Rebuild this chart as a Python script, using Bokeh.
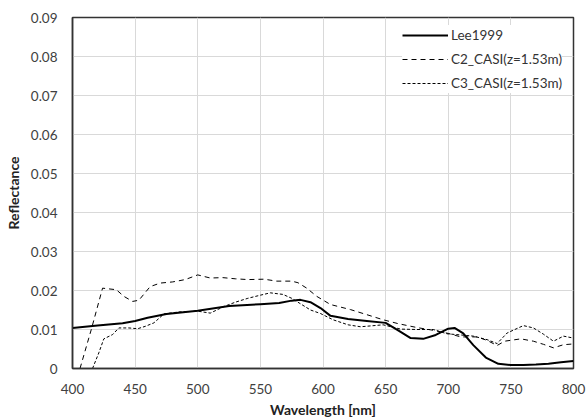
from bokeh.plotting import figure
from bokeh.models import Range1d, FixedTicker, CustomJSTickFormatter, Legend, LegendItem
from bokeh.embed import file_html
from bokeh.resources import INLINE

# ---- data ----
lee_wl = [400, 420, 440, 450, 460, 475, 500, 525, 550, 565, 575, 582, 590, 598, 606, 620, 635, 650,
          660, 670, 680, 690, 700, 705, 712, 720, 730, 740, 750, 760, 770, 780, 790, 800]
lee_r = [0.0104, 0.0110, 0.0116, 0.0122, 0.0130, 0.0140, 0.0148, 0.0160, 0.0165, 0.0168, 0.0174, 0.0176,
         0.0170, 0.0155, 0.0135, 0.0127, 0.0122, 0.0117, 0.0098, 0.0078, 0.0076, 0.0086, 0.0102, 0.0104,
         0.0090, 0.0060, 0.0028, 0.0012, 0.0009, 0.0009, 0.0010, 0.0012, 0.0016, 0.0019]

c2_wl = [406, 415, 424, 435, 441, 448, 453, 462, 470, 480, 490, 500, 510, 520, 530, 540, 553, 563, 575,
         580, 587, 595, 606, 622, 635, 648, 660, 675, 688, 700, 710, 723, 731, 739, 745, 758, 768, 776,
         784, 792, 800]
c2_r = [0.0, 0.0100, 0.0206, 0.0202, 0.0185, 0.0172, 0.0175, 0.0210, 0.0219, 0.0222, 0.0228, 0.0240,
        0.0232, 0.0233, 0.0230, 0.0228, 0.0229, 0.0224, 0.0224, 0.0220, 0.0206, 0.0185, 0.0164, 0.0151,
        0.0138, 0.0125, 0.0115, 0.0105, 0.0098, 0.0090, 0.0081, 0.0081, 0.0072, 0.0059, 0.0070, 0.0076,
        0.0070, 0.0062, 0.0053, 0.0061, 0.0063]

c3_wl = [416, 421, 425, 432, 437, 445, 452, 458, 465, 473, 485, 500, 510, 521, 530, 540, 550, 558, 568,
         575, 582, 590, 598, 608, 620, 630, 648, 662, 675, 688, 699, 710, 720, 731, 739, 747, 760, 768,
         776, 784, 792, 800]
c3_r = [0.0, 0.0040, 0.0076, 0.0087, 0.0104, 0.0104, 0.0102, 0.0108, 0.0117, 0.0140, 0.0145, 0.0147,
        0.0142, 0.0159, 0.0170, 0.0180, 0.0188, 0.0194, 0.0190, 0.0180, 0.0166, 0.0150, 0.0141, 0.0125,
        0.0112, 0.0107, 0.0112, 0.0101, 0.0100, 0.0100, 0.0089, 0.0086, 0.0083, 0.0074, 0.0064, 0.0091,
        0.0110, 0.0104, 0.0088, 0.0070, 0.0083, 0.0078]

x_ticks = [400, 450, 500, 550, 600, 650, 700, 750, 800]
y_ticks = [0, 0.01, 0.02, 0.03, 0.04, 0.05, 0.06, 0.07, 0.08, 0.09]
labels = ["Lee1999", "C2_CASI(z=1.53m)", "C3_CASI(z=1.53m)"]

FONT = "Lato"

p = figure(width=586, height=420, output_backend="svg", toolbar_location=None,
           x_range=Range1d(400, 800), y_range=Range1d(0, 0.09),
           min_border_left=72, min_border_right=13, min_border_top=17, min_border_bottom=51)
p.outline_line_color = "#333333"
p.outline_line_width = 1.5
p.background_fill_color = "white"
p.border_fill_color = "white"

for ax in (p.xaxis[0], p.yaxis[0]):
    ax.axis_line_color = "#333333"
    ax.axis_line_width = 1.5
    ax.major_tick_line_color = None
    ax.minor_tick_line_color = None
    ax.major_tick_out = 0
    ax.major_tick_in = 0
    ax.minor_tick_out = 0
    ax.minor_tick_in = 0
    ax.major_label_text_font = FONT
    ax.major_label_text_font_size = "13.5px"
    ax.major_label_text_color = "#404040"
    ax.axis_label_text_font = FONT
    ax.axis_label_text_font_style = "bold"
    ax.axis_label_text_font_size = "14px"
    ax.axis_label_text_color = "#222222"

p.xaxis.ticker = FixedTicker(ticks=x_ticks)
p.yaxis.ticker = FixedTicker(ticks=y_ticks)
p.yaxis.formatter = CustomJSTickFormatter(code="return tick == 0 ? '0' : tick.toFixed(2);")
p.xaxis.axis_label = "Wavelength [nm]"
p.yaxis.axis_label = "Reflectance"
p.xaxis.major_label_standoff = 15
p.yaxis.major_label_standoff = 15
p.xaxis.axis_label_standoff = 4
p.yaxis.axis_label_standoff = 6

p.xgrid.grid_line_color = "#d9d9d9"
p.ygrid.grid_line_color = "#d9d9d9"
p.xgrid.grid_line_width = 1
p.ygrid.grid_line_width = 1

r1 = p.line(lee_wl, lee_r, line_color="black", line_width=2)
r2 = p.line(c2_wl, c2_r, line_color="black", line_width=1, line_dash="5 4")
r3 = p.line(c3_wl, c3_r, line_color="black", line_width=1, line_dash="3 2")

legend = Legend(items=[LegendItem(label=labels[0], renderers=[r1]),
                       LegendItem(label=labels[1], renderers=[r2]),
                       LegendItem(label=labels[2], renderers=[r3])],
                location=(330, 275), padding=0, margin=0, spacing=4,
                glyph_width=46, glyph_height=20, label_height=20, label_standoff=3,
                label_text_font=FONT, label_text_font_size="13.5px", label_text_color="#333333",
                border_line_color=None, background_fill_color="white", background_fill_alpha=1.0)
p.add_layout(legend)

open("out.html", "w").write(file_html(p, INLINE))
